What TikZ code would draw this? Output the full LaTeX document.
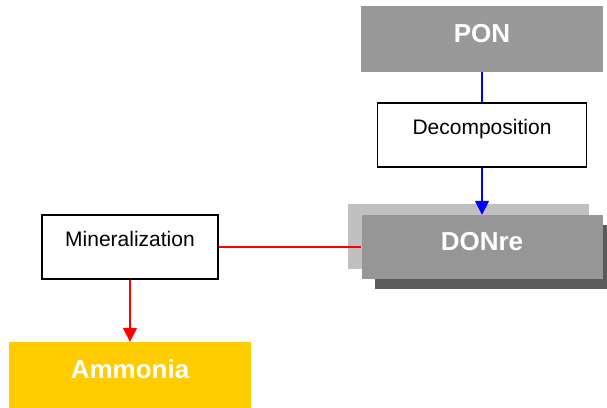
\documentclass[tikz,border=0pt]{standalone}
\usepackage{fontspec}
\setmainfont{Liberation Sans}
\usetikzlibrary{arrows.meta}
\definecolor{pongray}{HTML}{999999}
\definecolor{dongray}{HTML}{969696}
\definecolor{backgray}{HTML}{C0C0C0}
\definecolor{shadegray}{HTML}{5A5A5A}
\definecolor{ammgold}{HTML}{FFCC00}
\begin{document}
\begin{tikzpicture}[x=1pt, y=-1pt,
    pool/.style = {inner sep=0pt, text=white, font=\fontsize{26}{30}\selectfont\bfseries, text height=18pt, text depth=11pt},
    proc/.style = {draw, fill=white, line width=1.6pt, inner sep=0pt, font=\fontsize{21}{25}\selectfont, text height=15pt, text depth=17pt},
    flow/.style = {line width=1.6pt, -{Triangle[width=14pt,length=14pt]}}]
	\useasboundingbox (0,0) rectangle (607,407);
	% shadows behind DONre
	\fill[backgray] (348,204) rectangle (589,269);
	\fill[shadegray] (375,225) rectangle (607,289);
	\node[pool, fill=pongray, minimum width=242pt, minimum height=66pt] (pon) at (482,39) {PON};
	\node[proc, minimum width=209pt, minimum height=64pt] (dec) at (482,135) {Decomposition};
	\node[pool, fill=dongray, minimum width=241pt, minimum height=64pt] (don) at (482,247) {DONre};
	\node[proc, minimum width=176pt, minimum height=64pt] (min) at (130,247) {Mineralization};
	\node[pool, fill=ammgold, minimum width=242pt, minimum height=66pt] (amm) at (130,375) {Ammonia};
	\draw[blue, line width=1.6pt] (pon) -- (dec);
	\draw[flow, blue] (dec) -- (don);
	\draw[red, line width=1.6pt] (min) -- (don);
	\draw[flow, red] (min) -- (amm);
\end{tikzpicture}
\end{document}
